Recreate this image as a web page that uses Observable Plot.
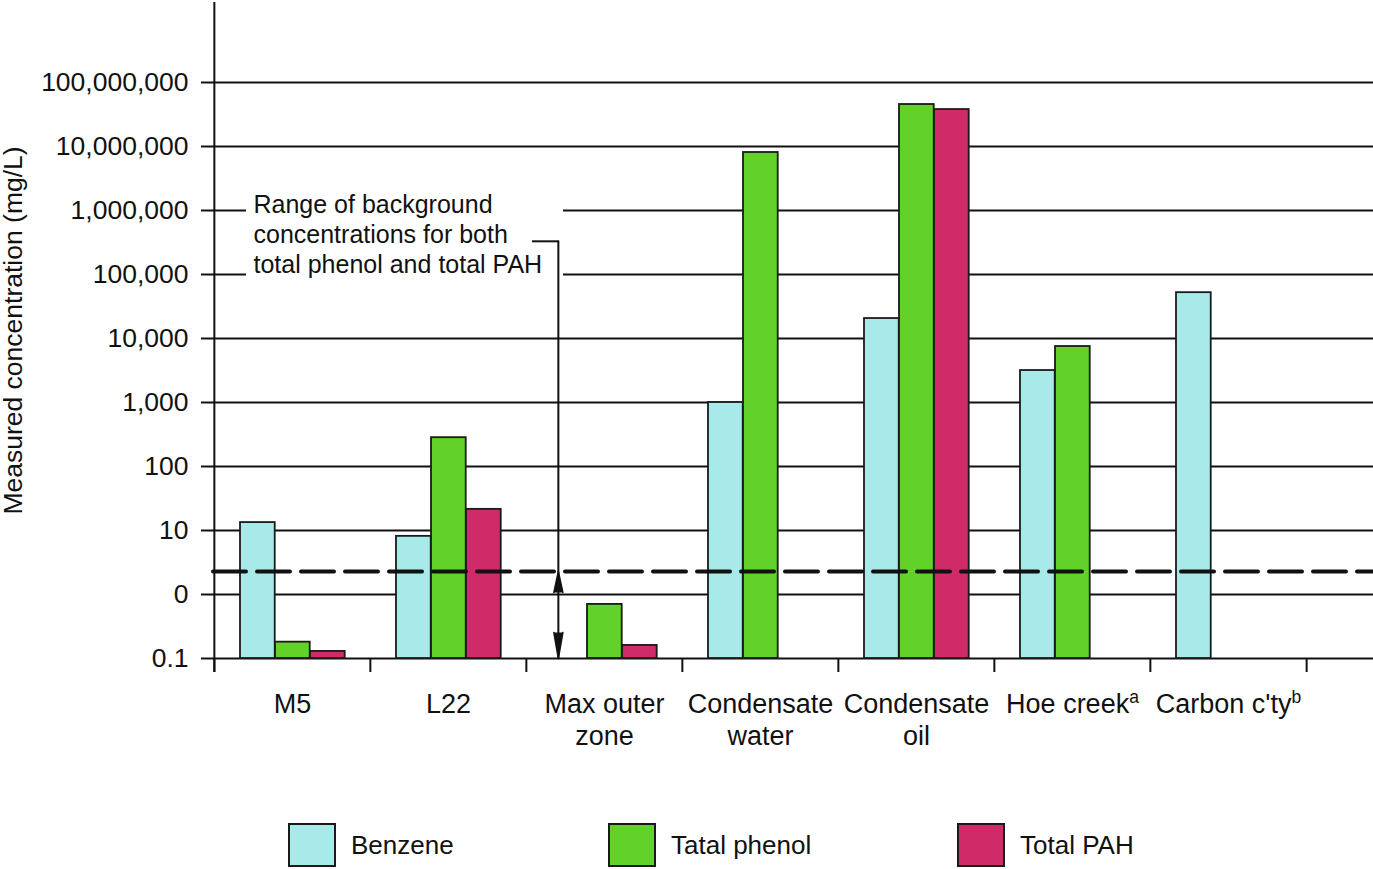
<!DOCTYPE html>
<html><head><meta charset="utf-8">
<script src="https://cdn.jsdelivr.net/npm/d3@7"></script>
<script src="https://cdn.jsdelivr.net/npm/@observablehq/plot@0.6"></script>
<style>
body{margin:0;background:#fff;font-family:"Liberation Sans",Arial,sans-serif;}
#legend{position:relative;height:69px;width:1373px;}
.item{position:absolute;top:23px;display:flex;align-items:center;font-size:26px;color:#111;}
.sw{width:44px;height:40px;border:2px solid #1a1a1a;margin-right:15px;}
</style></head><body>
<div id="chart"></div><div id="legend"></div>
<script>
// ---- data ----
const categories = ["M5", "L22", "Max outer zone", "Condensate water", "Condensate oil", "Hoe creek", "Carbon c'ty"];
const categoryLabels = ["M5", "L22", "Max outer\nzone", "Condensate\nwater", "Condensate\noil", "Hoe creek", "Carbon c'ty"];
const categorySuperscripts = ["", "", "", "", "", "a", "b"];
const series = ["Benzene", "Tatal phenol", "Total PAH"];
const seriesColors = ["#a8eae9", "#62d22b", "#cf2b69"];
const benzene = [13.3, 8.1, null, 1000, 20500, 3160, 52000];
const totalPhenol = [0.18, 282, 0.70, 8.06e6, 4.53e7, 7500, null];
const totalPAH = [0.129, 21.4, 0.16, null, 3.78e7, null, null];
const yTicks = [0.1, 1, 10, 100, 1e3, 1e4, 1e5, 1e6, 1e7, 1e8];
const yTickLabels = ["0.1", "0", "10", "100", "1,000", "10,000", "100,000", "1,000,000", "10,000,000", "100,000,000"];
const backgroundLevel = 2.29;
const leaderLevel = 3.3e5;
const annotationLines = ["Range of background", "concentrations for both", "total phenol and total PAH"];
const yTitle = "Measured concentration (mg/L)";
const yMin = 0.1, yMax = Math.pow(10, 9.25);

// ---- layout ----
const W = 1373, H = 800, ML = 213, MR = 66, MT = 2, MB = 142;
const bw = (W - ML - MR) / categories.length;
const barOffset = 26, barWidth = 35;
const arrowOffset = 32;
const ink = "#111";

const rows = [];
[benzene, totalPhenol, totalPAH].forEach((vals, k) => vals.forEach((v, i) => {
  if (v != null) rows.push({category: categories[i], series: series[k], value: v});
}));

const barMarks = series.map((s, k) => Plot.barY(rows.filter(d => d.series === s), {
  x: "category", y1: yMin, y2: "value", fill: "series",
  stroke: "#1a1a1a", strokeWidth: 1.8,
  insetLeft: barOffset + k * barWidth,
  insetRight: bw - barOffset - (k + 1) * barWidth
}));

const brokenTicks = [1e5, 1e6];
const fullGrid = yTicks.filter(t => !brokenTicks.includes(t));

const chart = Plot.plot({
  width: W, height: H,
  marginLeft: ML, marginRight: MR, marginTop: MT, marginBottom: MB,
  style: {fontFamily: '"Liberation Sans", Arial, sans-serif', color: ink, background: "#fff", overflow: "visible"},
  x: {domain: categories, padding: 0},
  y: {type: "log", domain: [yMin, yMax]},
  color: {domain: series, range: seriesColors},
  marks: [
    Plot.ruleY(fullGrid, {stroke: ink, strokeWidth: 2, insetRight: -MR}),
    Plot.ruleY(brokenTicks, {stroke: ink, strokeWidth: 2, insetRight: (W - MR) - 246}),
    Plot.ruleY(brokenTicks, {stroke: ink, strokeWidth: 2, insetLeft: 563 - ML, insetRight: -MR}),
    ...barMarks,
    Plot.ruleY([backgroundLevel], {stroke: ink, strokeWidth: 4, strokeDasharray: "33,11", strokeLinecap: "round", insetRight: -MR}),
    // y axis line and category boundary ticks
    Plot.ruleX([categories[0]], {dx: -bw / 2, stroke: ink, strokeWidth: 2, insetBottom: -14}),
    Plot.ruleX(categories, {y1: yMin, y2: yMin, dx: -bw / 2, stroke: ink, strokeWidth: 2, insetBottom: -14}),
    Plot.ruleX([categories[categories.length - 1]], {y1: yMin, y2: yMin, dx: bw / 2, stroke: ink, strokeWidth: 2, insetBottom: -14}),
    Plot.axisY({ticks: yTicks, tickFormat: d => yTickLabels[yTicks.indexOf(d)], tickSize: 12, tickPadding: 13, fontSize: 26.5, strokeWidth: 2, label: null}),
    Plot.axisX({tickSize: 0, tickPadding: 31, fontSize: 27, lineHeight: 1.2, tickFormat: d => categoryLabels[categories.indexOf(d)], label: null}),
    Plot.text([yTitle], {frameAnchor: "left", textAnchor: "middle", rotate: -90, dx: 13 - ML, fontSize: 26.5, fill: ink}),
    // annotation
    Plot.text([annotationLines.join("\n")], {frameAnchor: "top-left", dx: 253 - ML, dy: 189, textAnchor: "start", lineAnchor: "top", lineHeight: 1.2, fontSize: 25, fill: ink}),
    Plot.ruleY([leaderLevel], {stroke: ink, strokeWidth: 2, insetLeft: 532 - ML, insetRight: (W - MR) - 559}),
    Plot.ruleX([categories[2]], {y1: yMin, y2: leaderLevel, dx: arrowOffset - bw / 2, stroke: ink, strokeWidth: 2}),
    Plot.vector([backgroundLevel], {x: () => categories[2], y: d => d, dx: arrowOffset - bw / 2, rotate: 0, length: 21, r: 4.5, shape: "spike", anchor: "end", fill: ink, stroke: ink}),
    Plot.vector([yMin], {x: () => categories[2], y: d => d, dx: arrowOffset - bw / 2, rotate: 180, length: 26, r: 4.5, shape: "spike", anchor: "end", fill: ink, stroke: ink})
  ]
});
document.getElementById("chart").appendChild(chart);

// superscripts on category labels
chart.querySelectorAll('g[aria-label="x-axis tick label"] text').forEach(t => {
  const i = categoryLabels.indexOf(t.textContent);
  if (i >= 0 && categorySuperscripts[i]) {
    const ts = document.createElementNS("http://www.w3.org/2000/svg", "tspan");
    ts.setAttribute("dy", "-0.55em");
    ts.setAttribute("font-size", "0.65em");
    ts.textContent = categorySuperscripts[i];
    t.appendChild(ts);
  }
});

// legend
const legend = document.getElementById("legend");
const legendLeft = [288, 608, 957];
series.forEach((s, k) => {
  const it = document.createElement("div");
  it.className = "item";
  it.style.left = legendLeft[k] + "px";
  it.innerHTML = `<div class="sw" style="background:${seriesColors[k]}"></div><span>${s}</span>`;
  legend.appendChild(it);
});
</script>
</body></html>
